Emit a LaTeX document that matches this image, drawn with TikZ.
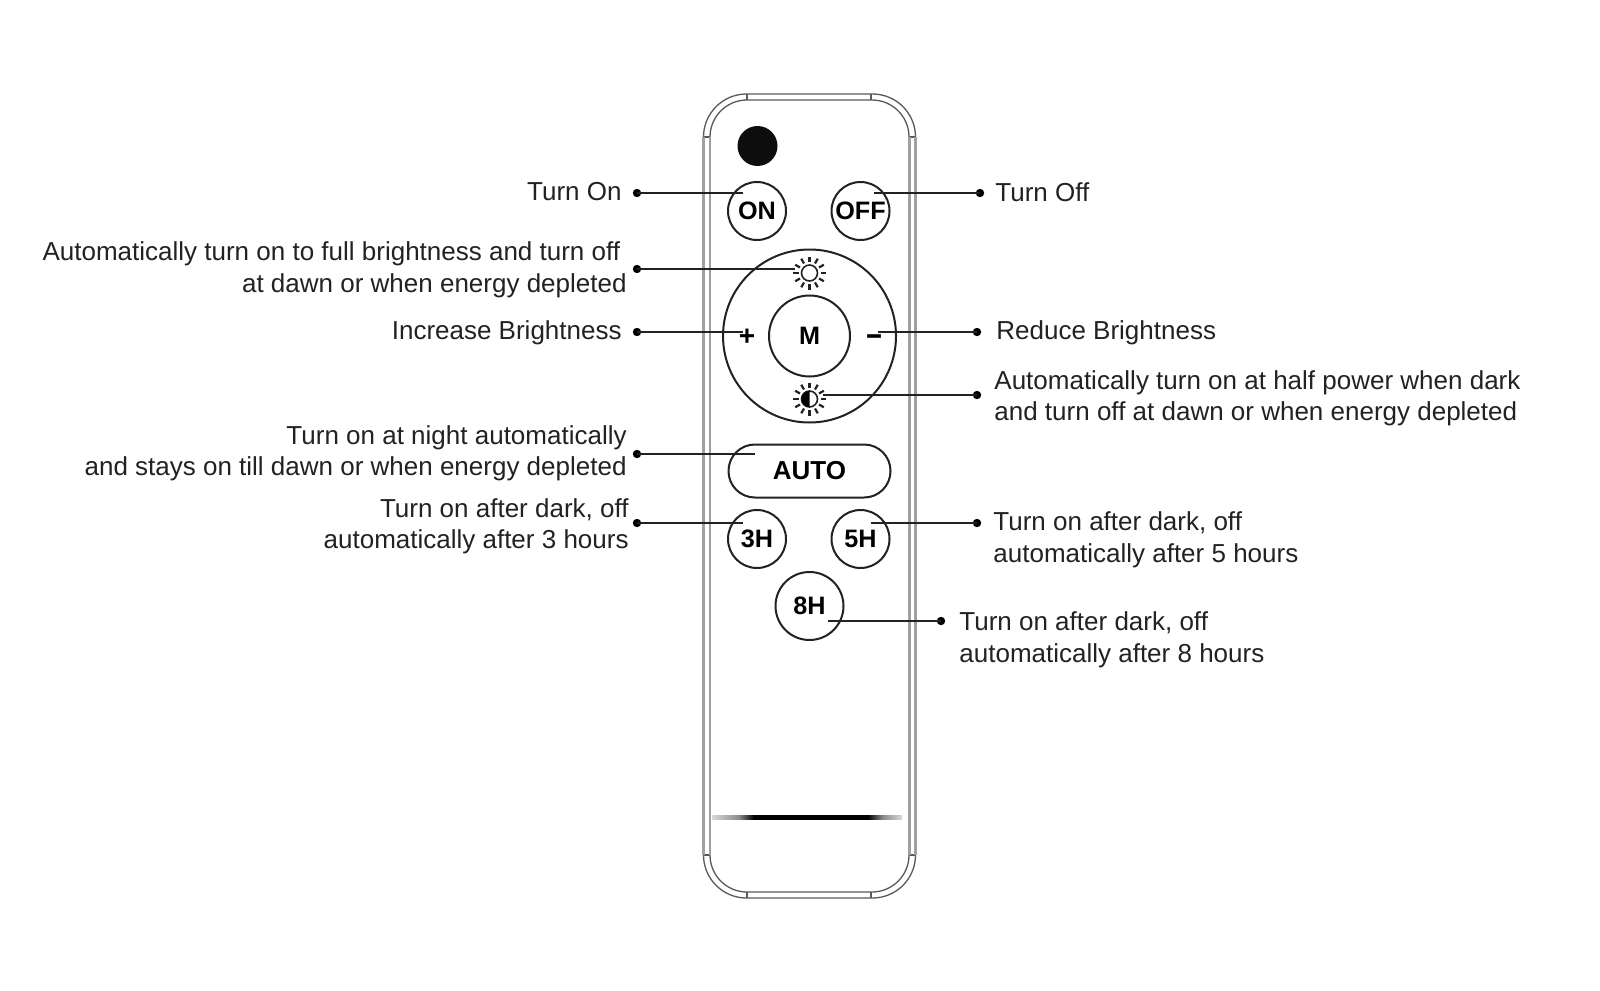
\documentclass[tikz,border=0pt]{standalone}
\usepackage{fontspec}
\setmainfont{Liberation Sans}
\newfontfamily\heavy{Liberation Sans Bold}[FakeBold=2]
\newcommand{\sunrays}[2]{%
  \foreach \a in {0,30,...,330}{
    \draw[line width=1.1pt,draw=ink,line cap=butt] ($(#1,#2)+(\a:11)$) -- ($(#1,#2)+(\a:16.5)$);
  }}
\definecolor{ink}{HTML}{222222}
\definecolor{bodyline}{HTML}{5A5A5A}
\definecolor{sidegray}{HTML}{A0A0A0}
\usetikzlibrary{calc}
\pgfdeclarehorizontalshading{barshade}{100bp}{color(0bp)=(white); color(25bp)=(white!85!black); color(32bp)=(black!45); color(36bp)=(black); color(66bp)=(black); color(70bp)=(black!45); color(75bp)=(white!85!black); color(100bp)=(white)}
\tikzset{
  btn/.style={circle,draw=ink,line width=1pt,inner sep=0pt,fill=white,font=\fontsize{12.6}{15}\bfseries\selectfont,text=black},
  lbl/.style={inner sep=0pt,text=ink,font=\fontsize{13}{15.75}\selectfont},
  lblL/.style={lbl,anchor=east,align=right},
  lblR/.style={lbl,anchor=west,align=left},
  dot/.style={circle,fill=black,inner sep=0pt,minimum size=4.2pt},
  leader/.style={draw=ink,line width=1pt},
  shell/.style={draw=bodyline,line width=0.65pt},
  side/.style={draw=sidegray,line width=1.1pt}
}
\begin{document}
\begin{tikzpicture}[x=0.5pt,y=-0.5pt]
\useasboundingbox[fill=white] (0,0) rectangle (1600,990);
% body
\draw[shell,rounded corners=21.5pt] (703.5,94) rectangle (915.5,898);
\draw[shell,rounded corners=18.5pt] (710,100) rectangle (909,892);
\foreach \px in {747,871}{
  \draw[shell] (\px,94) -- (\px,100);
  \draw[shell] (\px,892) -- (\px,898);
}
\foreach \py in {137,855}{
  \draw[shell] (703.5,\py) -- (710,\py);
  \draw[shell] (909,\py) -- (915.5,\py);
}
\draw[side] (703.5,137) -- (703.5,855);
\draw[side] (710,137) -- (710,855);
\draw[side,line width=1.5pt] (909,137) -- (909,855);
\draw[side] (915.5,137) -- (915.5,855);
% bar
\shade[shading=barshade] (712,815) rectangle (902,819.5);
% controls
\node[circle,fill=black!95,inner sep=0pt,minimum size=20pt] (sensor) at (757.5,146) {};
\node[btn,minimum size=29pt] (on) at (757,211) {ON};
\node[btn,minimum size=29pt] (off) at (860.5,211) {OFF};
\node[circle,draw=ink,line width=1pt,inner sep=0pt,minimum size=86.5pt] (ring) at (809.5,336) {};
\node[btn,minimum size=40.5pt] (m) at (809.5,336) {M};
\node[inner sep=0pt,font=\fontsize{14}{15}\bfseries\selectfont] (plus) at (747,337) {+};
\node[inner sep=0pt,font=\fontsize{13.5}{15}\heavy] (minus) at (874,339) {–};
\sunrays{809.5}{273}
\node[circle,draw=ink,line width=0.8pt,inner sep=0pt,minimum size=8pt] (sunfull) at (809.5,273) {};
\sunrays{809.5}{399}
\node[circle,draw=ink,line width=0.8pt,inner sep=0pt,minimum size=8pt] (sunhalf) at (809.5,399) {};
\fill[black] (809.5,407) arc[start angle=90,end angle=270,radius=8];
\node[draw=ink,line width=1pt,rounded corners=13.2pt,minimum width=81pt,minimum height=26.5pt,inner sep=0pt,font=\fontsize{13}{15}\bfseries\selectfont,text=black] (auto) at (809.5,471) {AUTO};
\node[btn,minimum size=29pt] (h3) at (757,539) {\raisebox{-0.4pt}{3H}};
\node[btn,minimum size=29pt] (h5) at (860.5,539) {\raisebox{-0.4pt}{5H}};
\node[btn,minimum size=34pt] (h8) at (809.5,606) {8H};
% dots
\node[dot] (dOn) at (637,193) {};
\node[dot] (dOff) at (980,193) {};
\node[dot] (dSun) at (637,269) {};
\node[dot] (dPlus) at (637,332) {};
\node[dot] (dMinus) at (977,332) {};
\node[dot] (dHalf) at (977,395) {};
\node[dot] (dAuto) at (637,454) {};
\node[dot] (d3) at (637,523) {};
\node[dot] (d5) at (977,523) {};
\node[dot] (d8) at (941,621) {};
% connector ends
\coordinate (eOn) at (743,193);
\coordinate (eOff) at (874,193);
\coordinate (eSun) at (795,269);
\coordinate (ePlus) at (743,332);
\coordinate (eMinus) at (878,332);
\coordinate (eHalf) at (823,395);
\coordinate (eAuto) at (755,454);
\coordinate (e3) at (743,523);
\coordinate (e5) at (871,523);
\coordinate (e8) at (828,621);
\foreach \a/\b in {dOn/eOn,dOff/eOff,dSun/eSun,dPlus/ePlus,dMinus/eMinus,dHalf/eHalf,dAuto/eAuto,d3/e3,d5/e5,d8/e8}{
  \draw[leader] (\a.center) -- (\b);
}
% labels
\node[lblL] (tOn) at (622,194) {\strut Turn On};
\node[lblL] (tSun) at (627,270) {\strut Automatically turn on to full brightness and turn off\hspace*{3.2pt}\\\strut at dawn or when energy depleted};
\node[lblL] (tPlus) at (622,333) {\strut Increase Brightness};
\node[lblL] (tAuto) at (627,453.5) {\strut Turn on at night automatically\\\strut and stays on till dawn or when energy depleted};
\node[lblL] (t3) at (629,526.5) {\strut Turn on after dark, off\\\strut automatically after 3 hours};
\node[lblR] (tOff) at (995,195) {\strut Turn Off};
\node[lblR] (tMinus) at (996,333) {\strut Reduce Brightness};
\node[lblR] (tHalf) at (994,398.5) {\strut Automatically turn on at half power when dark\\\strut and turn off at dawn or when energy depleted};
\node[lblR] (t5) at (993,540) {\strut Turn on after dark, off\\[0.5pt]\strut automatically after 5 hours};
\node[lblR] (t8) at (959,640) {\strut Turn on after dark, off\\[0.5pt]\strut automatically after 8 hours};
\end{tikzpicture}
\end{document}
